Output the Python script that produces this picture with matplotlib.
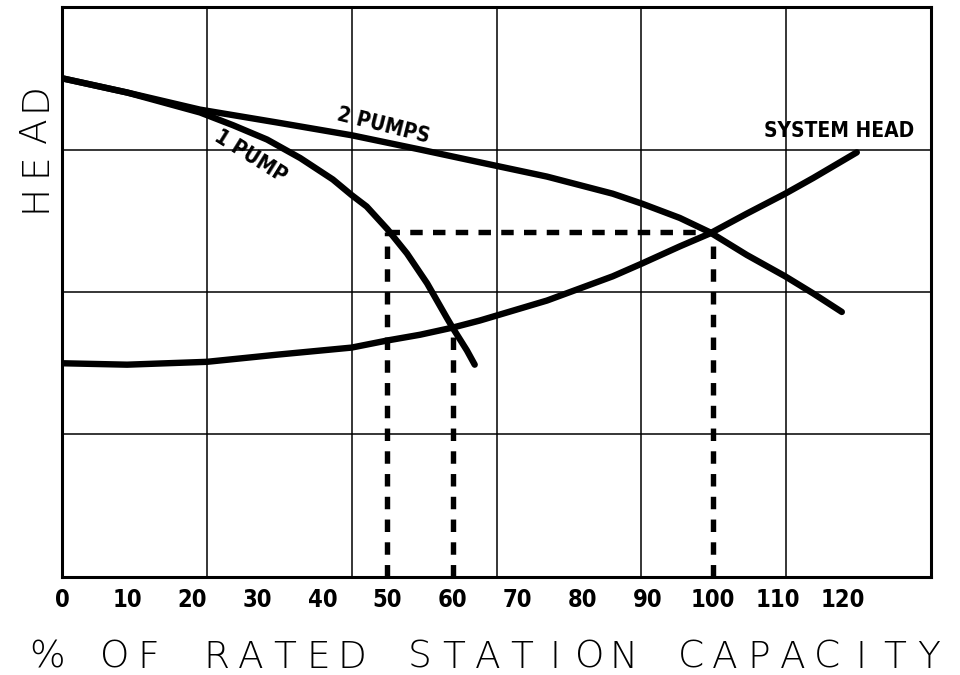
import matplotlib
matplotlib.use("Agg")
import matplotlib.pyplot as plt

# % of rated station capacity vs head (arbitrary units, 4 grid rows)
x_one_pump = [0, 10, 21.2, 26.3, 31.5, 36.6, 41.6, 44.5, 46.8, 50, 53, 56.1, 59.1, 60, 62.2, 63.4]
y_one_pump = [3.50, 3.40, 3.26, 3.17, 3.07, 2.94, 2.79, 2.68, 2.60, 2.44, 2.27, 2.06, 1.82, 1.75, 1.59, 1.49]

x_two_pumps = [0, 10, 21.2, 33, 44.5, 55, 64.2, 74.5, 84.6, 89.1, 94.9, 99.5, 105.2, 111.1, 115.4, 119.8]
y_two_pumps = [3.50, 3.40, 3.28, 3.19, 3.10, 3.00, 2.91, 2.81, 2.69, 2.62, 2.52, 2.42, 2.26, 2.11, 1.99, 1.86]

x_system = [0, 10, 22.25, 33, 44.5, 50, 55, 60, 64.2, 74.5, 84.6, 89.1, 94.9, 99.5, 105.2, 111.1, 115.4, 122.1]
y_system = [1.50, 1.49, 1.51, 1.56, 1.61, 1.66, 1.70, 1.75, 1.80, 1.94, 2.11, 2.20, 2.32, 2.41, 2.55, 2.69, 2.80, 2.98]

tick_values = [0, 10, 20, 30, 40, 50, 60, 70, 80, 90, 100, 110, 120]
tick_labels = [str(v) for v in tick_values]

op_one = (60, 1.75)
op_two = (100, 2.42)
op_start = 50

x_max = 133.5
y_max = 4

x_title = "% OF RATED STATION CAPACITY"
y_title = "HEAD"

fig = plt.figure(figsize=(9.6, 6.75), dpi=100)
ax = fig.add_axes([0.0646, 0.1452, 0.9052, 0.8444])

# grid that does not follow the tick labels
for i in range(1, 6):
    ax.axvline(x_max * i / 6, color="black", lw=1.1, zorder=1)
for j in range(1, 4):
    ax.axhline(j, color="black", lw=1.1, zorder=1)

curve = dict(color="black", lw=4.6, solid_capstyle="round", solid_joinstyle="round", zorder=3)
ax.plot(x_one_pump, y_one_pump, **curve)
ax.plot(x_two_pumps, y_two_pumps, **curve)
ax.plot(x_system, y_system, **curve)

dash = dict(color="black", lw=3.9, linestyle=(0, (2.3, 1.9)), zorder=2)
ax.plot([op_start, op_two[0]], [op_two[1], op_two[1]], **dash)
ax.plot([op_start, op_start], [0, op_two[1]], **dash)
ax.plot([op_one[0], op_one[0]], [0, op_one[1]], **dash)
ax.plot([op_two[0], op_two[0]], [0, op_two[1]], **dash)

lab = dict(fontsize=15, fontweight="bold", fontstretch="condensed", family="DejaVu Sans")
ax.text(49.3, 3.17, "2 PUMPS", rotation=-14, ha="center", va="center", **lab)
ax.text(28.9, 2.95, "1 PUMP", rotation=-32, ha="center", va="center", **lab)
ax.text(131.0, 3.13, "SYSTEM HEAD", ha="right", va="center", **lab)

ax.set_xlim(0, x_max)
ax.set_ylim(0, y_max)
ax.set_xticks(tick_values)
ax.set_xticklabels(tick_labels, fontsize=17, fontweight="bold",
                   fontstretch="condensed", family="DejaVu Sans")
ax.set_yticks([])
ax.tick_params(axis="x", length=0, pad=8)
for s in ax.spines.values():
    s.set_linewidth(2.2)

# wide, evenly spaced lettering like the plotter font
title_font = dict(fontsize=27, fontweight="light", family="DejaVu Sans", va="center", ha="center")
cell = 33.9
for k, ch in enumerate(x_title):
    fig.text((30 + cell * (k + 0.5)) / 960, 1 - 657 / 675, ch, **title_font)
for k, ch in enumerate(y_title):
    fig.text(35 / 960, 1 - (215 - cell * (k + 0.5)) / 675, ch, rotation=90, **title_font)

fig.savefig("out.png", dpi=100)
